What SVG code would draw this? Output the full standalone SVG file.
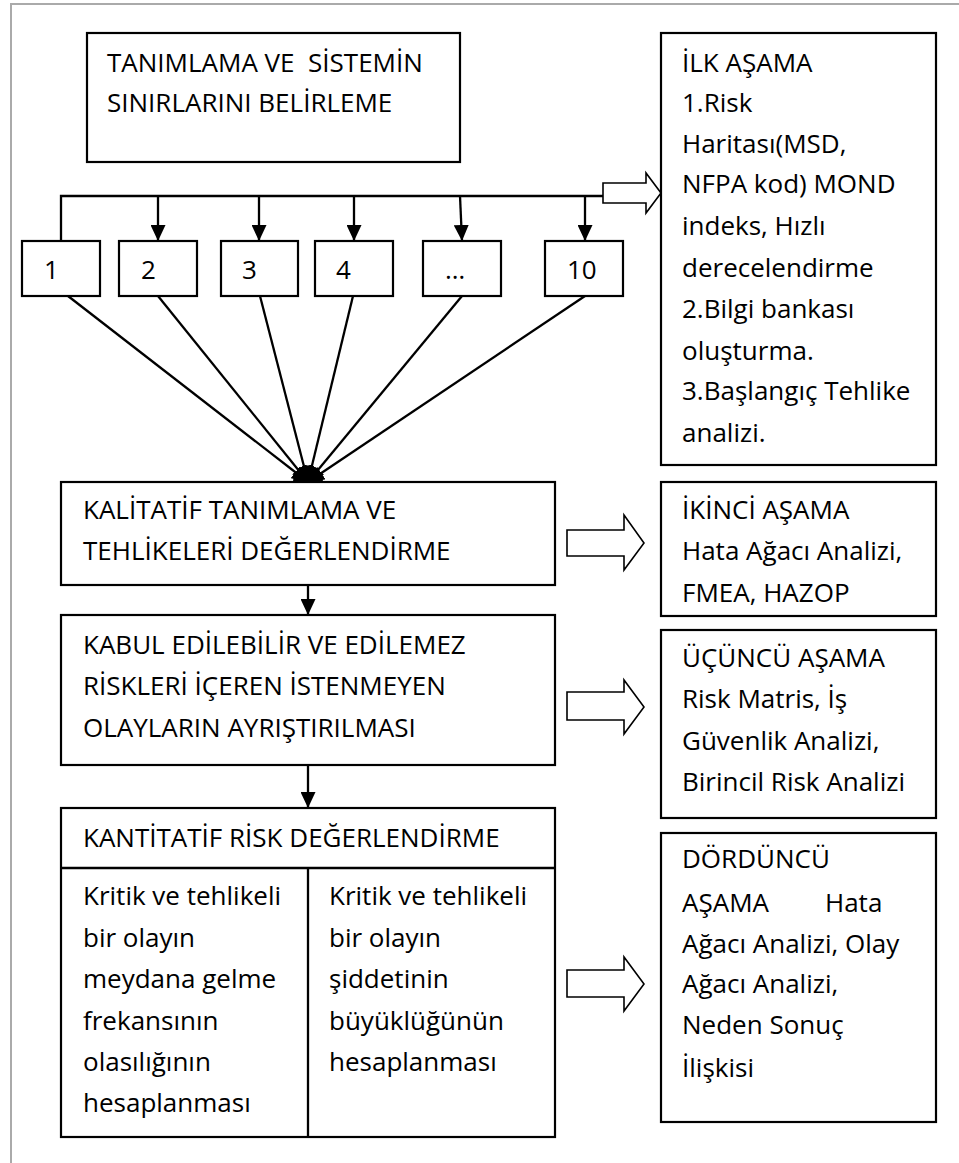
<svg xmlns="http://www.w3.org/2000/svg" width="959" height="1163" viewBox="0 0 959 1163">
  <style>
    .box { fill: #fff; stroke: #000; stroke-width: 2.2; }
    .ln { fill: none; stroke: #000; stroke-width: 2.3; }
    .barrow { fill: #fff; stroke: #000; stroke-width: 1.6; stroke-linejoin: miter; }
    text { font-family: "Open Sans", "Noto Sans", "Liberation Sans", sans-serif; font-size: 26px; fill: #000; }
  </style>
  <defs>
    <marker id="ah" viewBox="0 0 16 15" refX="16" refY="7.5" markerWidth="16" markerHeight="15" markerUnits="userSpaceOnUse" orient="auto">
      <path d="M0,0 L16,7.5 L0,15 z" fill="#000"/>
    </marker>
  </defs>
  <rect width="959" height="1163" fill="#fff"/>

  <!-- page frame -->
  <path d="M11,1163 V4 H959" fill="none" stroke="#aaa" stroke-width="2"/>

  <!-- connectors -->
  <g id="connectors">
    <!-- distribution bus -->
    <path class="ln" d="M61,241 V196 H604"/>
    <line class="ln" x1="158" y1="196" x2="158" y2="241" marker-end="url(#ah)"/>
    <line class="ln" x1="259" y1="196" x2="259" y2="241" marker-end="url(#ah)"/>
    <line class="ln" x1="354" y1="196" x2="354" y2="241" marker-end="url(#ah)"/>
    <line class="ln" x1="460" y1="196" x2="462" y2="241" marker-end="url(#ah)"/>
    <line class="ln" x1="585" y1="196" x2="585" y2="241" marker-end="url(#ah)"/>
    <!-- fan into qualitative step -->
    <line class="ln" x1="68" y1="296" x2="308" y2="482" marker-end="url(#ah)"/>
    <line class="ln" x1="158" y1="296" x2="308" y2="482" marker-end="url(#ah)"/>
    <line class="ln" x1="260" y1="296" x2="308" y2="482" marker-end="url(#ah)"/>
    <line class="ln" x1="353" y1="296" x2="308" y2="482" marker-end="url(#ah)"/>
    <line class="ln" x1="462" y1="296" x2="308" y2="482" marker-end="url(#ah)"/>
    <line class="ln" x1="585" y1="296" x2="308" y2="482" marker-end="url(#ah)"/>
    <!-- merged arrowheads where the fan meets -->
    <path d="M293,482 A15,14 0 0 1 323,482 Z" fill="#000"/>
    <!-- main flow -->
    <line class="ln" x1="308" y1="585" x2="308" y2="615" marker-end="url(#ah)"/>
    <line class="ln" x1="308" y1="765" x2="308" y2="808" marker-end="url(#ah)"/>
    <!-- block arrows towards stage boxes -->
    <path class="barrow" d="M603,183 H646 V173 L661,193 L646,213 V203 H603 Z"/>
    <path class="barrow" d="M567,530 H624 V515 L644,543 L624,570 V556 H567 Z"/>
    <path class="barrow" d="M567,692 H624 V680 L644,707 L624,734 V720 H567 Z"/>
    <path class="barrow" d="M567,970 H624 V957 L644,984 L624,1011 V997 H567 Z"/>
  </g>

  <g id="n-define">
    <rect class="box" x="87" y="33" width="373" height="129"/>
    <text x="107" y="72" xml:space="preserve">TANIMLAMA VE  SİSTEMİN</text>
    <text x="107" y="112">SINIRLARINI BELİRLEME</text>
  </g>

  <g id="n-1"><rect class="box" x="22" y="241" width="78" height="55"/><text x="44" y="279">1</text></g>
  <g id="n-2"><rect class="box" x="119" y="241" width="78" height="55"/><text x="141" y="279">2</text></g>
  <g id="n-3"><rect class="box" x="221" y="241" width="77" height="55"/><text x="242" y="279">3</text></g>
  <g id="n-4"><rect class="box" x="315" y="241" width="78" height="55"/><text x="336" y="279">4</text></g>
  <g id="n-5"><rect class="box" x="423" y="241" width="78" height="55"/><text x="445" y="279">…</text></g>
  <g id="n-10"><rect class="box" x="545" y="241" width="78" height="55"/><text x="567" y="279">10</text></g>

  <g id="n-stage1">
    <rect class="box" x="661" y="33" width="275" height="432"/>
    <text x="682" y="72">İLK AŞAMA</text>
    <text x="682" y="112">1.Risk</text>
    <text x="682" y="153">Haritası(MSD,</text>
    <text x="682" y="193">NFPA kod) MOND</text>
    <text x="682" y="235">indeks, Hızlı</text>
    <text x="682" y="277">derecelendirme</text>
    <text x="682" y="318">2.Bilgi bankası</text>
    <text x="682" y="360">oluşturma.</text>
    <text x="682" y="400">3.Başlangıç Tehlike</text>
    <text x="682" y="442">analizi.</text>
  </g>

  <g id="n-qualitative">
    <rect class="box" x="61" y="482" width="494" height="103"/>
    <text x="83" y="519">KALİTATİF TANIMLAMA VE</text>
    <text x="83" y="560">TEHLİKELERİ DEĞERLENDİRME</text>
  </g>

  <g id="n-stage2">
    <rect class="box" x="661" y="482" width="275" height="134"/>
    <text x="682" y="519">İKİNCİ AŞAMA</text>
    <text x="682" y="560">Hata Ağacı Analizi,</text>
    <text x="682" y="602">FMEA, HAZOP</text>
  </g>

  <g id="n-separation">
    <rect class="box" x="61" y="615" width="494" height="150"/>
    <text x="83" y="654">KABUL EDİLEBİLİR VE EDİLEMEZ</text>
    <text x="83" y="695">RİSKLERİ İÇEREN İSTENMEYEN</text>
    <text x="83" y="737">OLAYLARIN AYRIŞTIRILMASI</text>
  </g>

  <g id="n-stage3">
    <rect class="box" x="661" y="630" width="275" height="188"/>
    <text x="682" y="667">ÜÇÜNCÜ AŞAMA</text>
    <text x="682" y="708">Risk Matris, İş</text>
    <text x="682" y="750">Güvenlik Analizi,</text>
    <text x="682" y="791">Birincil Risk Analizi</text>
  </g>

  <g id="n-quantitative">
    <rect class="box" x="61" y="808" width="494" height="329"/>
    <line class="ln" x1="61" y1="868" x2="555" y2="868"/>
    <line class="ln" x1="308" y1="868" x2="308" y2="1137"/>
    <text x="83" y="847">KANTİTATİF RİSK DEĞERLENDİRME</text>
    <text x="83" y="905">Kritik ve tehlikeli</text>
    <text x="83" y="947">bir olayın</text>
    <text x="83" y="988">meydana gelme</text>
    <text x="83" y="1030">frekansının</text>
    <text x="83" y="1071">olasılığının</text>
    <text x="83" y="1112">hesaplanması</text>
    <text x="329" y="905">Kritik ve tehlikeli</text>
    <text x="329" y="947">bir olayın</text>
    <text x="329" y="988">şiddetinin</text>
    <text x="329" y="1030">büyüklüğünün</text>
    <text x="329" y="1071">hesaplanması</text>
  </g>

  <g id="n-stage4">
    <rect class="box" x="661" y="833" width="275" height="289"/>
    <text x="682" y="868">DÖRDÜNCÜ</text>
    <text x="682" y="912">AŞAMA</text>
    <text x="825" y="912">Hata</text>
    <text x="682" y="953">Ağacı Analizi, Olay</text>
    <text x="682" y="993">Ağacı Analizi,</text>
    <text x="682" y="1034">Neden Sonuç</text>
    <text x="682" y="1077">İlişkisi</text>
  </g>
</svg>
